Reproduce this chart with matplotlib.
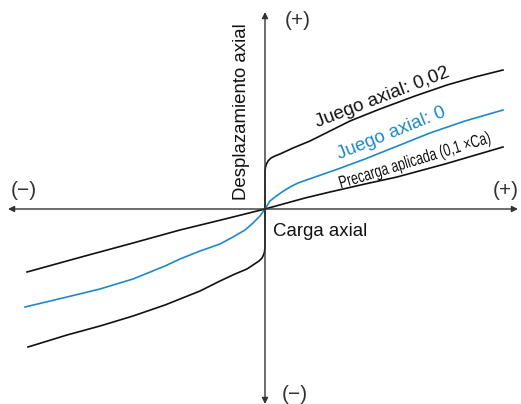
import numpy as np
import matplotlib.pyplot as plt
from matplotlib.textpath import TextPath
from matplotlib.patches import PathPatch
from matplotlib.font_manager import FontProperties
from matplotlib.transforms import Affine2D

plt.rcParams['font.family'] = ['Liberation Sans', 'DejaVu Sans']

# Curvas (carga axial -> desplazamiento axial, unidades arbitrarias)
# Juego axial 0,02 (rama positiva y negativa)
juego002_pos_x = [0, 0, 0.5, 1.5, 3, 6, 10, 15, 28, 45, 65, 85, 115, 150, 182, 210, 238]
juego002_pos_y = [0, 38, 42, 45, 48, 51, 53, 55, 61, 68, 78, 88, 100, 113, 124, 132, 139]
juego002_neg_x = [0, 0, -0.5, -1.5, -3, -6, -12, -18, -30, -45, -65, -100, -132, -165, -198, -237]
juego002_neg_y = [0, -38, -43, -46, -49, -52, -56, -60, -65, -72, -82, -96, -107, -117, -126, -138]

# Juego axial 0
juego0_x = [-240, -198, -165, -132, -100, -85, -65, -45, -32, -20, -12, -5, 0,
            5, 10, 17, 25, 33, 50, 73, 100, 130, 165, 200, 238]
juego0_y = [-98, -88, -80, -70, -57, -50, -42, -35, -28, -21, -14, -7, 0,
            8, 12, 17, 22, 26, 32, 40, 50, 62, 76, 88, 99]

# Precarga aplicada
precarga_x = [-238, -180, -132, -85, -40, 0, 40, 65, 100, 132, 180, 238]
precarga_y = [-63, -47, -34, -21, -10, 0, 11, 17, 25, 32, 45, 62]

blue = '#1E88C8'
axis_col = '#333333'

fig = plt.figure(figsize=(5.21, 4.04), dpi=100)
ax = fig.add_axes([0, 0, 1, 1])
ax.set_xlim(-265, 256)
ax.set_ylim(-195, 209)
ax.axis('off')

# Ejes con flechas
ax.annotate('', xy=(253, 0), xytext=(-257, 0),
            arrowprops=dict(arrowstyle='<|-|>', lw=1.0, color=axis_col,
                            mutation_scale=9, shrinkA=0, shrinkB=0))
ax.annotate('', xy=(0, 197), xytext=(0, -195),
            arrowprops=dict(arrowstyle='<|-|>', lw=1.0, color=axis_col,
                            mutation_scale=9, shrinkA=0, shrinkB=0))

# Curvas
ax.plot(juego002_pos_x, juego002_pos_y, color='#111111', lw=1.2, solid_joinstyle='round')
ax.plot(juego002_neg_x, juego002_neg_y, color='#111111', lw=1.2, solid_joinstyle='round')
ax.plot(juego0_x, juego0_y, color=blue, lw=1.2, solid_joinstyle='round')
ax.plot(precarga_x, precarga_y, color='#111111', lw=1.2, solid_joinstyle='round')

# Signos
for sx, sy, s in [(33, 189, '(+)'), (241, 18, '(+)'), (-241, 18, '(\u2212)'), (30, -186, '(\u2212)')]:
    ax.text(sx, sy, s, fontsize=15, ha='center', va='center', color='#333333')

ax.text(-23, 97, 'Desplazamiento axial', fontsize=13.4, rotation=90,
        ha='center', va='center', color='#111111')
ax.text(8, -22, 'Carga axial', fontsize=13.4, ha='left', va='center', color='#111111')

ax.text(117, 111, 'Juego axial: 0,02', fontsize=13.6, rotation=21,
        ha='center', va='center', color='#111111', rotation_mode='anchor')
ax.text(126, 76, 'Juego axial: 0', fontsize=13.5, rotation=22,
        ha='center', va='center', color=blue, rotation_mode='anchor')

# Texto estrecho (condensado) para la precarga
tp = TextPath((0, 0), 'Precarga aplicada (0,1 \u00d7Ca)', size=17.5,
              prop=FontProperties(family='Liberation Sans'))
bb = tp.get_extents()
tr = (Affine2D().translate(-(bb.x0 + bb.x1) / 2, -(bb.y0 + bb.y1) / 2)
      .scale(0.72, 1.0).rotate_deg(17).translate(150, 48))
ax.add_patch(PathPatch(tr.transform_path(tp), facecolor='#111111', edgecolor='none'))

fig.savefig('out.png', dpi=100)
